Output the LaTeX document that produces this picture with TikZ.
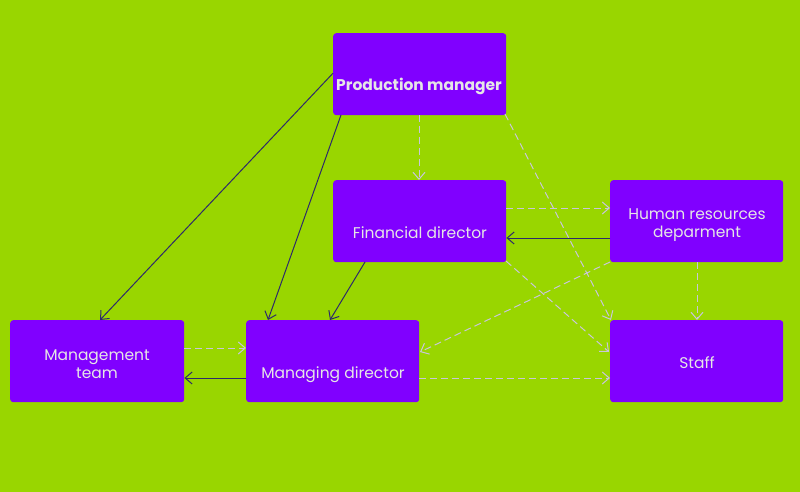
\documentclass[tikz,border=0pt]{standalone}
\usepackage{fontspec}
\setmainfont{Poppins}
\usetikzlibrary{arrows.meta}
\definecolor{bg}{HTML}{99D600}
\definecolor{boxc}{HTML}{8000FF}
\definecolor{txt}{HTML}{E6E6E6}
\definecolor{solidc}{HTML}{2E2A6A}
\definecolor{dashc}{HTML}{C9C6DC}
\tikzset{
  box/.style={draw=none, fill=boxc, rounded corners=3pt, minimum width=173pt, minimum height=82pt, inner sep=0pt, anchor=north west},
  lbl/.style={text=txt, font=\fontsize{15.5}{18.5}\selectfont, align=center, inner sep=0pt},
  solidarrow/.style={draw=solidc, line width=1pt, -{Straight Barb[length=7pt,width=12pt]}},
  dasharrow/.style={draw=dashc, line width=1pt, dash pattern=on 7pt off 4pt, -{Straight Barb[length=7pt,width=12pt]}},
}
\begin{document}
\begin{tikzpicture}[x=1pt,y=-1pt]
\fill[bg] (0,0) rectangle (800,492);
\useasboundingbox (0,0) rectangle (800,492);
\node[box] (pm) at (333,33) {};
\node[box] (fd) at (333,180) {};
\node[box] (hr) at (610,180) {};
\node[box, minimum width=174pt] (mt) at (10,320) {};
\node[box] (md) at (246,320) {};
\node[box] (st) at (610,320) {};
\node[lbl, font=\fontsize{15.5}{18.5}\selectfont\bfseries] (pmt) at (419,86) {Production manager};
\node[lbl] (fdt) at (420,233) {Financial director};
\node[lbl] (hrt) at (697,225) {Human resources\\deparment};
\node[lbl] (mtt) at (97,364) {Management\\team};
\node[lbl] (mdt) at (333,375) {Managing director};
\node[lbl] (stt) at (697,363) {Staff};
% solid
\draw[solidarrow] (pm.west) ++(0,-1) -- (100,320);
\draw[solidarrow] (341,115) -- (268,320);
\draw[solidarrow] (365,262) -- (330,320);
\draw[solidarrow] (hr.west |- 0,238) -- (fd.east |- 0,238);
\draw[solidarrow] (md.west |- 0,378) -- (mt.east |- 0,378);
% dashed
\draw[dasharrow] (419,115) -- (419,180);
\draw[dasharrow] (505,114) -- (611,320);
\draw[dasharrow] (fd.east |- 0,208) -- (hr.west |- 0,208);
\draw[dasharrow] (506,261) -- (609,352);
\draw[dasharrow] (610,262) -- (420,352);
\draw[dasharrow] (697,262) -- (697,320);
\draw[dasharrow] (mt.east |- 0,348) -- (md.west |- 0,348);
\draw[dasharrow] (md.east |- 0,378) -- (st.west |- 0,378);
\end{tikzpicture}
\end{document}
